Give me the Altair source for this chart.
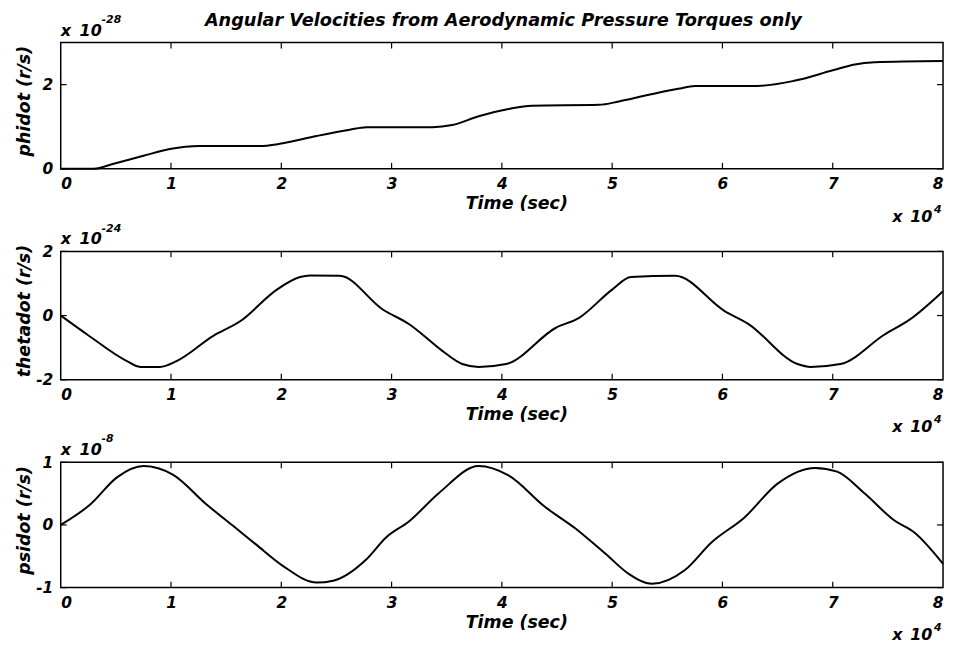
import altair as alt
import pandas as pd

# ---------------- data ----------------
t_phi = [0, 0.3, 0.48, 0.75, 0.99, 1.26, 1.8, 2.0, 2.32, 2.62, 2.77, 3.37, 3.55, 3.79,
         4.06, 4.27, 4.88, 5.06, 5.3, 5.6, 5.75, 6.32, 6.65, 7.0, 7.2, 7.38, 8.0]
phidot = [0, 0, 0.12, 0.31, 0.47, 0.54, 0.54, 0.6, 0.78, 0.93, 0.99, 0.99, 1.04, 1.25,
          1.42, 1.5, 1.52, 1.6, 1.74, 1.9, 1.97, 1.97, 2.09, 2.34, 2.48, 2.53, 2.56]

t_theta = [0, 0.24, 0.6, 0.72, 0.9, 1.05, 1.38, 1.63, 1.96, 2.17, 2.26, 2.53, 2.92, 3.16,
           3.46, 3.64, 3.79, 4.04, 4.49, 4.7, 5.0, 5.17, 5.57, 6.02, 6.23, 6.68, 6.8,
           7.07, 7.47, 7.7, 8.0]
thetadot = [0, -0.59, -1.42, -1.6, -1.6, -1.42, -0.64, -0.17, 0.81, 1.2, 1.25, 1.24,
            0.19, -0.27, -1.1, -1.51, -1.6, -1.51, -0.38, -0.07, 0.81, 1.2, 1.24, 0.14,
            -0.25, -1.51, -1.6, -1.51, -0.59, -0.12, 0.76]

t_psi = [0, 0.27, 0.51, 0.75, 1.02, 1.32, 1.56, 1.77, 2.02, 2.32, 2.47, 2.77, 2.95, 3.16,
         3.43, 3.79, 4.06, 4.39, 4.67, 4.94, 5.15, 5.36, 5.66, 5.9, 6.2, 6.5, 6.84, 7.04,
         7.29, 7.56, 7.74, 8.0]
psidot = [0, 0.33, 0.76, 0.94, 0.8, 0.33, -0.01, -0.31, -0.66, -0.92, -0.89, -0.55,
          -0.2, 0.06, 0.51, 0.94, 0.79, 0.29, -0.06, -0.46, -0.78, -0.94, -0.72, -0.28,
          0.12, 0.66, 0.91, 0.85, 0.5, 0.07, -0.12, -0.62]

x_ticks = [0, 1, 2, 3, 4, 5, 6, 7, 8]
x_inner_ticks = [1, 2, 3, 4, 5, 6, 7]
y_titles = ["phidot (r/s)", "thetadot (r/s)", "psidot (r/s)"]
y_domains = [[0, 3], [-2, 2], [-1, 1]]
y_ticks = [[0, 2], [-2, 0, 2], [-1, 0, 1]]
y_exponents = ["-28", "-24", "-8"]
x_title = "Time (sec)"
main_title = "Angular Velocities from Aerodynamic Pressure Torques only"

FONT = "DejaVu Sans"
W = 887
HEIGHTS = [127, 129, 126]
TICK = 6


def txt(s, x, y, size=16, align="left", baseline="alphabetic"):
    return alt.Chart(pd.DataFrame({"s": [s]})).mark_text(
        font=FONT, fontSize=size, fontStyle="italic", fontWeight="bold",
        color="black", align=align, baseline=baseline
    ).encode(text="s:N", x=alt.value(x), y=alt.value(y))


def panel(i, t, v):
    H = HEIGHTS[i]
    xs = alt.Scale(domain=[0, 8], nice=False, zero=False)
    ys = alt.Scale(domain=y_domains[i], nice=False, zero=False)
    x_enc = alt.X("t:Q", scale=xs, axis=alt.Axis(
        values=x_ticks, labelExpr="toString(datum.value)", title=x_title,
        titleX=458, titleY=40, titleAlign="center", titleBaseline="alphabetic"))
    y_enc = alt.Y("v:Q", scale=ys, axis=alt.Axis(
        values=y_ticks[i], labelExpr="toString(datum.value)", title=y_titles[i],
        titleAngle=270, titleX=-36, titleY=H / 2 - 5, titleAlign="center",
        titleBaseline="middle"))

    df = pd.DataFrame({"t": t, "v": v})
    line = alt.Chart(df).mark_line(color="black", strokeWidth=2,
                                   interpolate="monotone").encode(x=x_enc, y=y_enc)

    dx = pd.DataFrame({"t": x_inner_ticks})
    tick_top = alt.Chart(dx).mark_rule(color="black", strokeWidth=1.2).encode(
        x=x_enc, y=alt.value(0), y2=alt.value(TICK))
    tick_bot = alt.Chart(dx).mark_rule(color="black", strokeWidth=1.2).encode(
        x=x_enc, y=alt.value(H), y2=alt.value(H - TICK))
    dy = pd.DataFrame({"v": y_ticks[i]})
    tick_l = alt.Chart(dy).mark_rule(color="black", strokeWidth=1.2).encode(
        y=y_enc, x=alt.value(0), x2=alt.value(TICK))
    tick_r = alt.Chart(dy).mark_rule(color="black", strokeWidth=1.2).encode(
        y=y_enc, x=alt.value(W), x2=alt.value(W - TICK))

    layers = [line, tick_top, tick_bot, tick_l, tick_r,
              txt("x", 0, -7, 16), txt("10", 19, -7, 16), txt(y_exponents[i], 41, -20, 11),
              txt("x", 836, H + 53, 16), txt("10", 854, H + 53, 16),
              txt("4", 878, H + 44, 11)]
    if i == 0:
        layers.append(txt(main_title, 445, -17, 17.8, align="center"))
        anchor = alt.Chart(pd.DataFrame({"a": [0]})).mark_rule(
            opacity=0, strokeWidth=1).encode(
            x=alt.value(-51.5), x2=alt.value(-40), y=alt.value(-31.5))
        layers.append(anchor)
    return alt.layer(*layers).properties(width=W, height=H)


p1 = panel(0, t_phi, phidot)
p2 = panel(1, t_theta, thetadot)
p3 = panel(2, t_psi, psidot)

chart = alt.vconcat(p1, p2, p3, spacing=83, bounds="flush").properties(
    padding=0, background="white"
).configure_view(stroke="black", strokeWidth=1.5).configure_axis(
    domain=False, ticks=False, grid=False,
    labelFont=FONT, labelFontSize=15.5, labelFontStyle="italic", labelFontWeight="bold",
    labelColor="black", labelPadding=8,
    titleFont=FONT, titleFontSize=17.5, titleFontStyle="italic", titleFontWeight="bold",
    titleColor="black"
)

chart.save("out.html", embed_options={"renderer": "svg", "actions": False})
